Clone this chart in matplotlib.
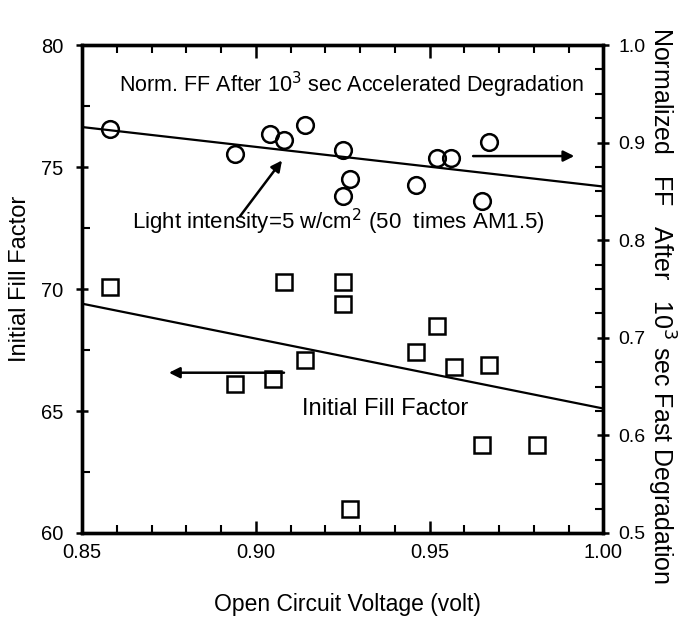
import matplotlib
matplotlib.use("Agg")
import matplotlib.pyplot as plt
from matplotlib.ticker import MultipleLocator, FormatStrFormatter

# open circuit voltage (V) and initial fill factor, squares / left axis
voc_init = [0.858, 0.894, 0.905, 0.908, 0.914, 0.925, 0.925, 0.927, 0.946, 0.952, 0.957, 0.967, 0.965, 0.981]
ff_init = [70.1, 66.1, 66.3, 70.3, 67.1, 70.3, 69.4, 61.0, 67.4, 68.5, 66.8, 66.9, 63.6, 63.6]

# normalized FF after 10^3 s accelerated degradation, circles / right axis
voc_norm = [0.858, 0.894, 0.904, 0.908, 0.914, 0.925, 0.927, 0.925, 0.946, 0.952, 0.956, 0.967, 0.965]
ff_norm = [0.914, 0.888, 0.909, 0.903, 0.918, 0.892, 0.863, 0.845, 0.857, 0.884, 0.884, 0.901, 0.840]

# straight-line fits, evaluated at the ends of the voltage range
fit_voc = [0.85, 1.00]
fit_init = [69.4, 65.1]
fit_norm = [0.916, 0.855]

font = ["Liberation Sans", "DejaVu Sans"]

fig = plt.figure(figsize=(6.79, 6.26), dpi=100)
ax = fig.add_axes([0.1208, 0.1486, 0.768, 0.7794])
ax2 = ax.twinx()

ax.plot(voc_init, ff_init, linestyle="none", marker="s", markersize=11.5,
        markerfacecolor="none", markeredgecolor="black", markeredgewidth=1.8)
ax.plot(fit_voc, fit_init, color="black", linewidth=1.6)

ax2.plot(voc_norm, ff_norm, linestyle="none", marker="o", markersize=12,
         markerfacecolor="none", markeredgecolor="black", markeredgewidth=1.8)
ax2.plot(fit_voc, fit_norm, color="black", linewidth=1.6)

ax.set_xlim(0.85, 1.00)
ax.set_ylim(60, 80)
ax2.set_ylim(0.5, 1.0)

ax.xaxis.set_major_locator(MultipleLocator(0.05))
ax.xaxis.set_minor_locator(MultipleLocator(0.01))
ax.xaxis.set_major_formatter(FormatStrFormatter("%.2f"))
ax.yaxis.set_major_locator(MultipleLocator(5))
ax.yaxis.set_minor_locator(MultipleLocator(2.5))
ax2.yaxis.set_major_locator(MultipleLocator(0.1))
ax2.yaxis.set_minor_locator(MultipleLocator(0.025))
ax2.yaxis.set_major_formatter(FormatStrFormatter("%.1f"))

ax.tick_params(axis="x", which="both", top=True, direction="in")
ax.tick_params(axis="x", which="major", length=9, width=1.8, pad=7)
ax.tick_params(axis="x", which="minor", length=6, width=1.5)
ax.tick_params(axis="y", which="major", direction="inout", length=9, width=1.8, pad=9)
ax.tick_params(axis="y", which="minor", direction="in", length=6, width=1.5)
ax2.tick_params(axis="y", which="major", direction="inout", length=9, width=1.8, pad=6)
ax2.tick_params(axis="y", which="minor", direction="in", length=6, width=1.5)

for a in (ax, ax2):
    for sp in a.spines.values():
        sp.set_linewidth(2.4)
for lab in ax.get_xticklabels() + ax.get_yticklabels():
    lab.set_fontfamily(font)
    lab.set_fontsize(14.5)
for lab in ax2.get_yticklabels():
    lab.set_fontfamily(font)
    lab.set_fontsize(14)

ax.set_xlabel("Open Circuit Voltage (volt)", family=font, fontsize=16.5)
ax.xaxis.set_label_coords(0.509, -0.122)
ax.set_ylabel("Initial Fill Factor", family=font, fontsize=17)
ax.yaxis.set_label_coords(-0.098, 0.52)
ax2.set_ylabel("Normalized   FF   After   10$^3$ sec Fast Degradation",
               family=font, fontsize=18, rotation=-90, va="center")
ax2.yaxis.set_label_coords(1.110, 0.465)

ax.text(0.516, 0.918, "Norm. FF After 10$^3$ sec Accelerated Degradation",
        transform=ax.transAxes, ha="center", va="center", family=font, fontsize=15.5)
ax.text(0.492, 0.637, "Light intensity=5 w/cm$^2$ (50  times AM1.5)",
        transform=ax.transAxes, ha="center", va="center", family=font, fontsize=16)
ax.text(0.582, 0.254, "Initial Fill Factor",
        transform=ax.transAxes, ha="center", va="center", family=font, fontsize=17)

arrow = dict(arrowstyle="-|>", color="black", linewidth=1.8, mutation_scale=16)
ax.annotate("", xy=(0.8742, 66.57), xytext=(0.9089, 66.57), arrowprops=arrow)
ax.annotate("", xy=(0.9924, 75.45), xytext=(0.9617, 75.45), arrowprops=arrow)
ax.annotate("", xy=(0.9080, 75.36), xytext=(0.8950, 72.90), arrowprops=arrow)

fig.savefig("out.png", dpi=100)
